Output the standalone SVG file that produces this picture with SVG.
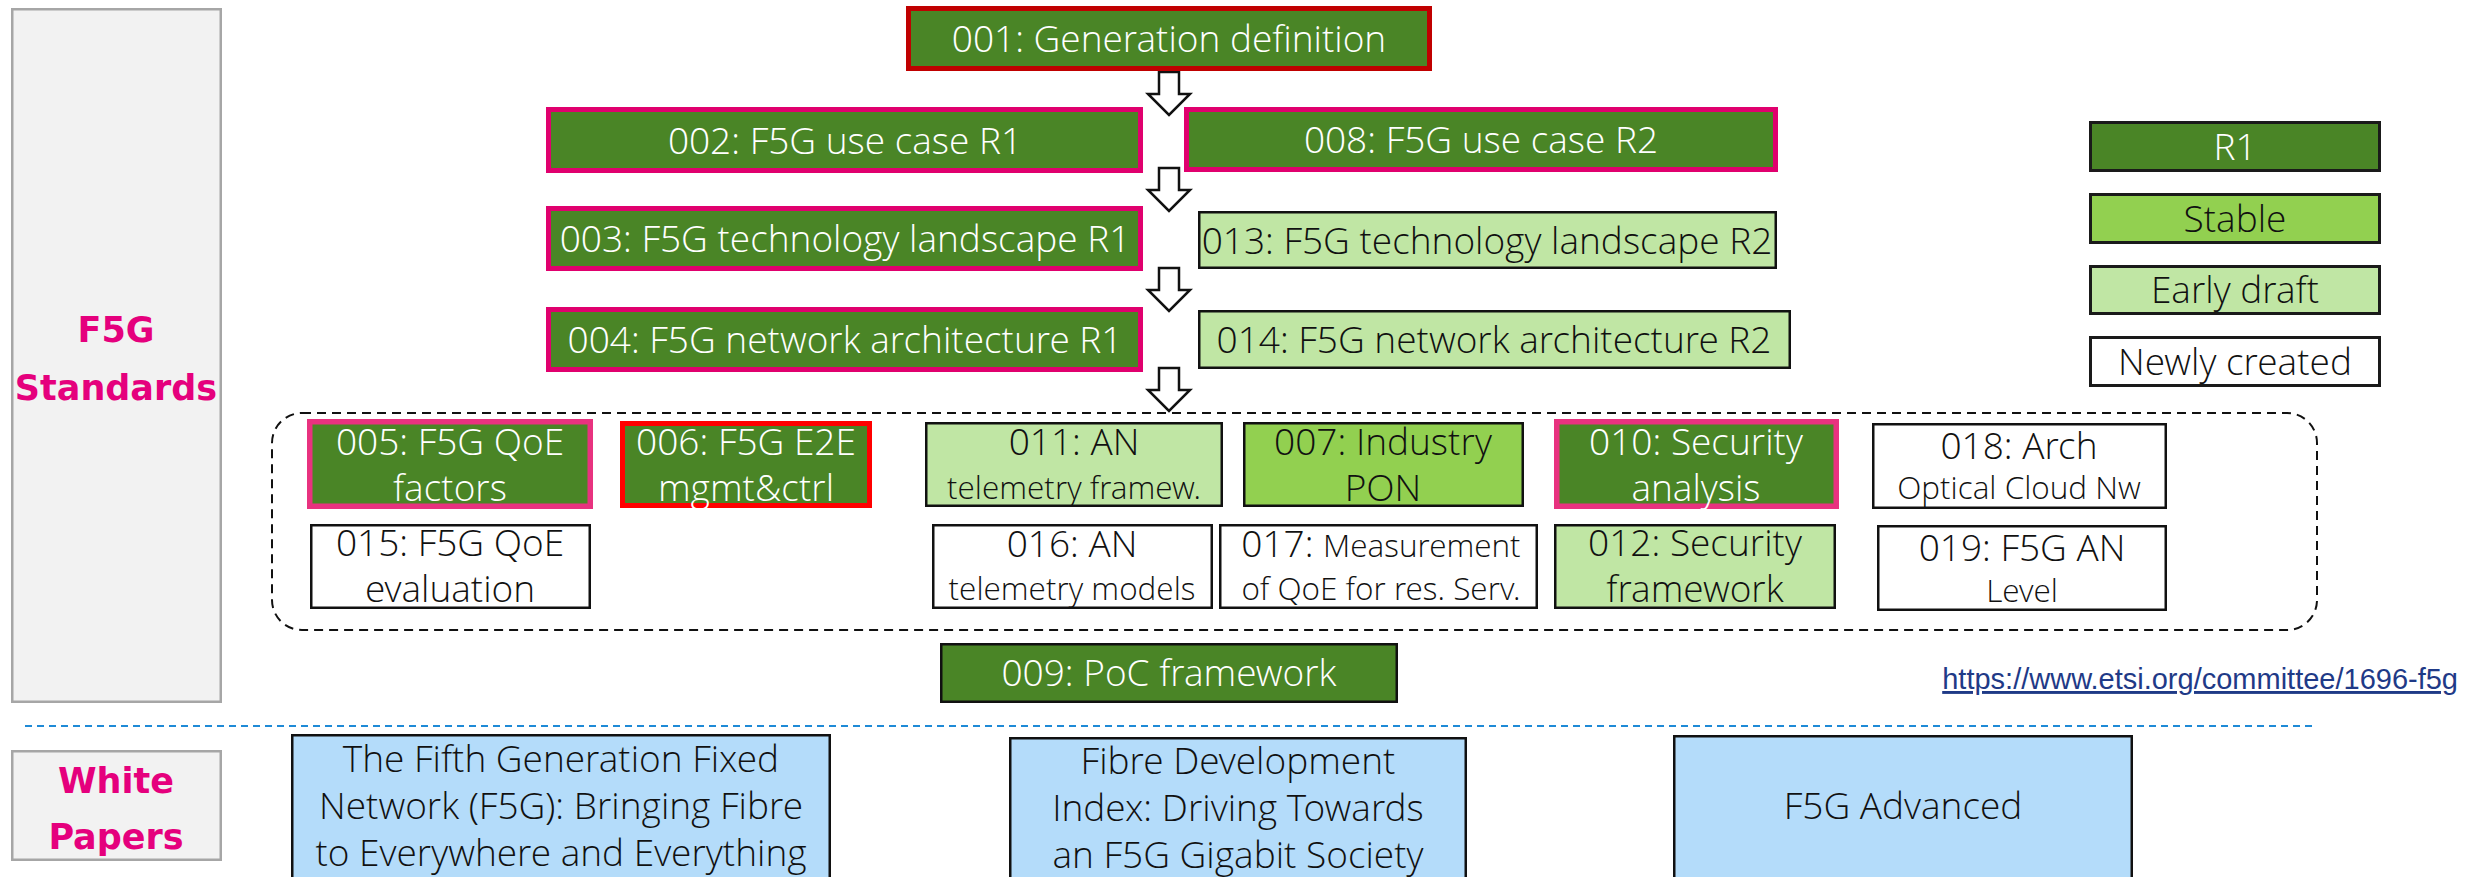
<svg xmlns="http://www.w3.org/2000/svg" width="2468" height="877" viewBox="0 0 2468 877">
<style>
.t{font-family:"Open Sans Light","Open Sans","Noto Sans",sans-serif;font-weight:300;font-size:37px;text-anchor:middle}
.s{font-size:31.5px}
.w{fill:#ffffff}
.k{fill:#111111}
.lab{font-family:"DejaVu Sans",Verdana,sans-serif;font-weight:bold;font-size:35px;fill:#e5007d;text-anchor:middle}
.panel{fill:#f2f2f2;stroke:#a6a6a6;stroke-width:2.5}
.r1{fill:#4a8526}
.st{fill:#92d050}
.ed{fill:#c0e6a4}
.nc{fill:#ffffff}
.mag{stroke:#e0006e;stroke-width:5}
.pink{stroke:#e8327f;stroke-width:5.5}
.red{stroke:#ff0000;stroke-width:5}
.dred{stroke:#c00000;stroke-width:5}
.blk{stroke:#111111;stroke-width:2.5}
.wp{fill:#b4dcfa;stroke:#111111;stroke-width:2.5}
.arrow{fill:#ffffff;stroke:#111111;stroke-width:2.5;stroke-linejoin:miter}
</style>

<g id="panel-standards">
<rect class="panel" x="12.25" y="9.25" width="208.5" height="692.5"/>
<text class="lab" x="116" y="342">F5G</text>
<text class="lab" x="116" y="400">Standards</text>
</g>
<g id="panel-whitepapers">
<rect class="panel" x="12.25" y="751.25" width="208.5" height="108.5"/>
<text class="lab" x="116" y="793">White</text>
<text class="lab" x="116" y="849">Papers</text>
</g>

<g id="separator">
<line x1="25" y1="726" x2="2314" y2="726" stroke="#1f8ad6" stroke-width="2" stroke-dasharray="7 5"/>
</g>

<g id="connectors">
<line x1="1140" y1="238" x2="1199" y2="238" stroke="#ffffff" stroke-width="2"/>
<line x1="1140" y1="339" x2="1199" y2="339" stroke="#ffffff" stroke-width="2"/>
<path class="arrow" d="M1159,72 H1179 V94 H1190 L1169,115 L1148,94 H1159 Z"/>
<path class="arrow" d="M1159,168 H1179 V190 H1190 L1169,211 L1148,190 H1159 Z"/>
<path class="arrow" d="M1159,268 H1179 V290 H1190 L1169,311 L1148,290 H1159 Z"/>
<path class="arrow" d="M1159,368 H1179 V390 H1190 L1169,411 L1148,390 H1159 Z"/>
</g>

<g id="n001">
<rect class="r1 dred" x="908.5" y="8.5" width="521" height="60"/>
<text class="t w" x="1169" y="52">001: Generation definition</text>
</g>
<g id="n002">
<rect class="r1 mag" x="548.5" y="109.5" width="592" height="61"/>
<text class="t w" x="845" y="154">002: F5G use case R1</text>
</g>
<g id="n008">
<rect class="r1 mag" x="1186.5" y="109.5" width="589" height="60"/>
<text class="t w" x="1481" y="153">008: F5G use case R2</text>
</g>
<g id="n003">
<rect class="r1 mag" x="548.5" y="208.5" width="592" height="60"/>
<text class="t w" x="845" y="252">003: F5G technology landscape R1</text>
</g>
<g id="n013">
<rect class="ed blk" x="1199.25" y="212.25" width="576.5" height="55.5"/>
<text class="t k" x="1487" y="254">013: F5G technology landscape R2</text>
</g>
<g id="n004">
<rect class="r1 mag" x="548.5" y="309.5" width="592" height="60"/>
<text class="t w" x="845" y="353">004: F5G network architecture R1</text>
</g>
<g id="n014">
<rect class="ed blk" x="1199.25" y="311.25" width="590.5" height="56.5"/>
<text class="t k" x="1494" y="353">014: F5G network architecture R2</text>
</g>

<g id="group-r2">
<rect x="272" y="413" width="2045" height="217" rx="30" ry="30" fill="none" stroke="#111111" stroke-width="2" stroke-dasharray="9 6"/>
</g>

<g id="n005">
<rect class="r1 pink" x="309.75" y="421.75" width="280.5" height="84.5"/>
<text class="t w" x="450" y="455">005: F5G QoE</text>
<text class="t w" x="450" y="501">factors</text>
</g>
<g id="n006">
<rect class="r1 red" x="622.5" y="423.5" width="247" height="82"/>
<text class="t w" x="746" y="455">006: F5G E2E</text>
<text class="t w" x="746" y="501">mgmt&amp;ctrl</text>
</g>
<g id="n011">
<rect class="ed blk" x="926.25" y="423.25" width="295.5" height="82.5"/>
<text class="t k" x="1074" y="455">011: AN</text>
<text class="t s k" x="1074" y="499">telemetry framew.</text>
</g>
<g id="n007">
<rect class="st blk" x="1244.25" y="423.25" width="278.5" height="82.5"/>
<text class="t k" x="1383" y="455">007: Industry</text>
<text class="t k" x="1383" y="501">PON</text>
</g>
<g id="n010">
<rect class="r1 pink" x="1556.75" y="421.75" width="279.5" height="84.5"/>
<text class="t w" x="1696" y="455">010: Security</text>
<text class="t w" x="1696" y="501">analysis</text>
</g>
<g id="n018">
<rect class="nc blk" x="1873.25" y="424.25" width="292.5" height="83.5"/>
<text class="t k" x="2019" y="459">018: Arch</text>
<text class="t s k" x="2019" y="499">Optical Cloud Nw</text>
</g>
<g id="n015">
<rect class="nc blk" x="311.25" y="525.25" width="278.5" height="82.5"/>
<text class="t k" x="450" y="556">015: F5G QoE</text>
<text class="t k" x="450" y="602">evaluation</text>
</g>
<g id="n016">
<rect class="nc blk" x="933.25" y="525.25" width="278.5" height="82.5"/>
<text class="t k" x="1072" y="557">016: AN</text>
<text class="t s k" x="1072" y="600">telemetry models</text>
</g>
<g id="n017">
<rect class="nc blk" x="1220.25" y="525.25" width="316.5" height="82.5"/>
<text class="t k" x="1381" y="557">017: <tspan class="s">Measurement</tspan></text>
<text class="t s k" x="1381" y="600">of QoE for res. Serv.</text>
</g>
<g id="n012">
<rect class="ed blk" x="1555.25" y="525.25" width="279.5" height="82.5"/>
<text class="t k" x="1695" y="556">012: Security</text>
<text class="t k" x="1695" y="602">framework</text>
</g>
<g id="n019">
<rect class="nc blk" x="1878.25" y="526.25" width="287.5" height="83.5"/>
<text class="t k" x="2022" y="561">019: F5G AN</text>
<text class="t s k" x="2022" y="602">Level</text>
</g>

<g id="n009">
<rect class="r1 blk" x="941.25" y="644.25" width="455.5" height="57.5"/>
<text class="t w" x="1169" y="686">009: PoC framework</text>
</g>

<g id="legend">
<g id="legend-r1">
<rect class="r1" x="2090.5" y="122.5" width="289" height="48" stroke="#1a1a1a" stroke-width="3"/>
<text class="t w" x="2235" y="160">R1</text>
</g>
<g id="legend-stable">
<rect class="st" x="2090.5" y="194.5" width="289" height="48" stroke="#1a1a1a" stroke-width="3"/>
<text class="t k" x="2235" y="232">Stable</text>
</g>
<g id="legend-early">
<rect class="ed" x="2090.5" y="266.5" width="289" height="47" stroke="#1a1a1a" stroke-width="3"/>
<text class="t k" x="2235" y="303">Early draft</text>
</g>
<g id="legend-new">
<rect class="nc" x="2090.5" y="337.5" width="289" height="48" stroke="#1a1a1a" stroke-width="3"/>
<text class="t k" x="2235" y="375">Newly created</text>
</g>
</g>

<g id="url">
<text x="2458" y="689" text-anchor="end" font-family="'Liberation Sans',Arial,sans-serif" font-size="29" fill="#1f3a87" text-decoration="underline">https://www.etsi.org/committee/1696-f5g</text>
</g>

<g id="wp1">
<rect class="wp" x="292.25" y="735.25" width="537.5" height="150"/>
<text class="t k" x="561" y="772">The Fifth Generation Fixed</text>
<text class="t k" x="561" y="819">Network (F5G): Bringing Fibre</text>
<text class="t k" x="561" y="866">to Everywhere and Everything</text>
</g>
<g id="wp2">
<rect class="wp" x="1010.25" y="738.25" width="455.5" height="150"/>
<text class="t k" x="1238" y="774">Fibre Development</text>
<text class="t k" x="1238" y="821">Index: Driving Towards</text>
<text class="t k" x="1238" y="868">an F5G Gigabit Society</text>
</g>
<g id="wp3">
<rect class="wp" x="1674.25" y="736.25" width="457.5" height="150"/>
<text class="t k" x="1903" y="819">F5G Advanced</text>
</g>
</svg>
